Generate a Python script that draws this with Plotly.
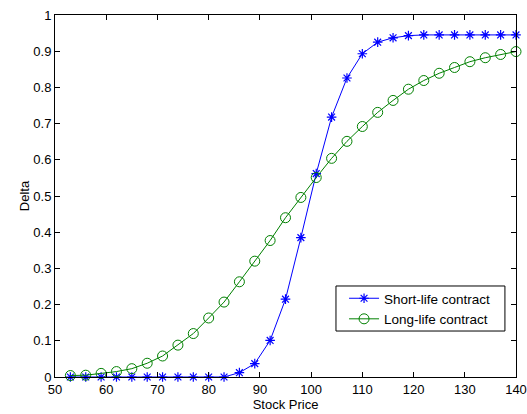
import plotly.graph_objects as go

stock_price = [53, 56, 59, 62, 65, 68, 71, 74, 77, 80, 83, 86, 89, 92, 95,
               98, 101, 104, 107, 110, 113, 116, 119, 122, 125, 128, 131, 134, 137, 140]
short_life = [0.0, 0.0, 0.0, 0.0, 0.0, 0.0, 0.0, 0.0, 0.0, 0.0, 0.0, 0.012, 0.037, 0.101, 0.215,
              0.385, 0.562, 0.718, 0.826, 0.893, 0.925, 0.937, 0.943, 0.945, 0.945, 0.945, 0.945, 0.945, 0.945, 0.945]
long_life = [0.004, 0.005, 0.010, 0.015, 0.023, 0.038, 0.058, 0.088, 0.120, 0.163, 0.207, 0.263, 0.320, 0.377, 0.440,
             0.496, 0.551, 0.604, 0.651, 0.692, 0.731, 0.764, 0.795, 0.819, 0.839, 0.855, 0.871, 0.882, 0.891, 0.899]

FONT = "Arial, Liberation Sans"

fig = go.Figure()
fig.add_trace(go.Scatter(
    x=stock_price, y=short_life, mode="lines+markers", name="Short-life contract",
    line=dict(color="#0000ff", width=1), cliponaxis=False,
    marker=dict(symbol="asterisk-open", size=8, color="#0000ff", line=dict(color="#0000ff", width=1.2)),
))
fig.add_trace(go.Scatter(
    x=stock_price, y=long_life, mode="lines+markers", name="Long-life contract",
    line=dict(color="#008000", width=1), cliponaxis=False,
    marker=dict(symbol="circle-open", size=10, color="#008000", line=dict(color="#008000", width=1)),
))

axis_common = dict(
    showline=True, linecolor="black", linewidth=1, mirror="ticks",
    ticks="inside", ticklen=5, tickcolor="black", showgrid=False, zeroline=False,
    tickfont=dict(family=FONT, size=13, color="black"), automargin=False,
    ticklabeloverflow="allow",
)
fig.update_xaxes(range=[50, 140], tick0=50, dtick=10,
                 title=dict(text="Stock Price", font=dict(family=FONT, size=13, color="black"), standoff=2),
                 **axis_common)
fig.update_yaxes(range=[0, 1], tick0=0, dtick=0.1, tickformat="~g",
                 title=dict(text="Delta", font=dict(family=FONT, size=13, color="black"), standoff=0),
                 **axis_common)

# legend frame drawn as a paper-space rectangle
fig.add_shape(type="rect", xref="paper", yref="paper",
              x0=0.6095, x1=0.976, y0=0.127, y1=0.2514,
              line=dict(color="black", width=1), fillcolor="rgba(0,0,0,0)", layer="above")

fig.update_layout(
    width=527, height=414,
    margin=dict(l=55, r=11, t=15, b=37),
    paper_bgcolor="white", plot_bgcolor="white",
    font=dict(family=FONT, size=13, color="black"),
    legend=dict(x=0.627, y=0.2597, xanchor="left", yanchor="top",
                borderwidth=0, bgcolor="rgba(0,0,0,0)",
                font=dict(size=13.5), tracegroupgap=0, itemwidth=30),
    showlegend=True,
)

fig.write_html("out.html", config={"displayModeBar": False},
               post_script="document.body.style.margin='0px';")
